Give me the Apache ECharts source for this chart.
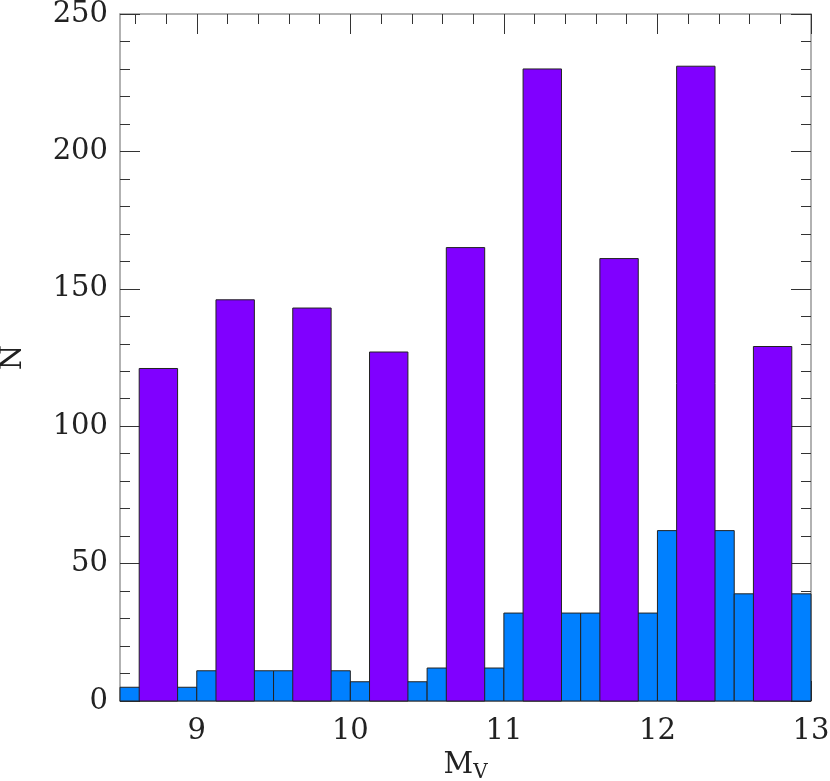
<!DOCTYPE html>
<html>
<head>
<meta charset="utf-8">
<script src="https://cdn.jsdelivr.net/npm/echarts@6/dist/echarts.min.js"></script>
<style>
  html, body { margin: 0; padding: 0; background: #fff; }
  #chart { width: 830px; height: 781px; }
</style>
</head>
<body>
<div id="chart"></div>
<script>
// bin centres (M_V) and counts
const binCenters = [8.75, 9.25, 9.75, 10.25, 10.75, 11.25, 11.75, 12.25, 12.75];
const blueCounts = [5, 11, 11, 7, 12, 32, 32, 62, 39];
const purpleCounts = [121, 146, 143, 127, 165, 230, 161, 231, 129];
const blueBinWidth = 0.5;
const purpleBinWidth = 0.25;

const xMajorTicks = [9, 10, 11, 12, 13];
const xMinorTicks = [8.6, 8.8, 9.2, 9.4, 9.6, 9.8, 10.2, 10.4, 10.6, 10.8,
                     11.2, 11.4, 11.6, 11.8, 12.2, 12.4, 12.6, 12.8];

const FONT = 'DejaVu Serif';
const frameColor = '#999';
const tickColor = '#333';

function histItem(binWidth, color) {
  return function (params, api) {
    const c = api.value(0);
    const v = api.value(1);
    const p0 = api.coord([c - binWidth / 2, 0]);
    const p1 = api.coord([c + binWidth / 2, v]);
    return {
      type: 'rect',
      shape: { x: p0[0], y: p1[1], width: p1[0] - p0[0], height: p0[1] - p1[1] },
      style: { fill: color, stroke: '#222', lineWidth: 1 }
    };
  };
}

function xAxisDef(position, ticks, len, labels, line) {
  return {
    type: 'value', position: position, min: 8.5, max: 13,
    axisLine: { show: line, onZero: false, lineStyle: { color: frameColor, width: 1.5 } },
    axisTick: { show: true, inside: true, length: len, customValues: ticks,
                lineStyle: { color: tickColor, width: 1 } },
    axisLabel: { show: labels, customValues: ticks, margin: 16,
                 fontFamily: FONT, fontSize: 29, color: '#222' },
    splitLine: { show: false }
  };
}

function yAxisDef(position, labels) {
  return {
    type: 'value', position: position, min: 0, max: 250, interval: 50,
    axisLine: { show: true, lineStyle: { color: frameColor, width: 1.5 } },
    axisTick: { show: true, inside: true, length: 20, lineStyle: { color: tickColor, width: 1 } },
    minorTick: { show: true, splitNumber: 5, length: 10, lineStyle: { color: tickColor, width: 1 } },
    axisLabel: { show: labels, margin: 12, fontFamily: FONT, fontSize: 29, color: '#222' },
    splitLine: { show: false }
  };
}

const chart = echarts.init(document.getElementById('chart'));

const xAxes = [
  xAxisDef('bottom', xMajorTicks, 20, true, true),
  xAxisDef('bottom', xMinorTicks, 10, false, false),
  xAxisDef('top', xMajorTicks, 20, false, true),
  xAxisDef('top', xMinorTicks, 10, false, false)
];
xAxes[0].name = 'M{v|V}';
xAxes[0].nameLocation = 'middle';
xAxes[0].nameGap = 46;
xAxes[0].nameTextStyle = {
  fontFamily: FONT, fontSize: 29, color: '#222',
  rich: { v: { fontFamily: FONT, fontSize: 20, color: '#222', padding: [14, 0, 0, 0] } }
};

const yAxes = [yAxisDef('left', true), yAxisDef('right', false)];
yAxes[0].name = 'N';
yAxes[0].nameLocation = 'middle';
yAxes[0].nameGap = 92;
yAxes[0].nameTextStyle = { fontFamily: FONT, fontSize: 29, color: '#222' };

chart.setOption({
  animation: false,
  backgroundColor: '#fff',
  grid: { left: 120, right: 19, top: 14, bottom: 80, containLabel: false, outerBoundsMode: 'none' },
  xAxis: xAxes,
  yAxis: yAxes,
  series: [
    {
      type: 'custom', name: 'all', xAxisIndex: 0, yAxisIndex: 0,
      renderItem: histItem(blueBinWidth, '#0080ff'),
      data: binCenters.map((c, i) => [c, blueCounts[i]]),
      z: 2
    },
    {
      type: 'custom', name: 'subset', xAxisIndex: 0, yAxisIndex: 0,
      renderItem: histItem(purpleBinWidth, '#8000ff'),
      data: binCenters.map((c, i) => [c, purpleCounts[i]]),
      z: 3
    }
  ]
});
</script>
</body>
</html>
